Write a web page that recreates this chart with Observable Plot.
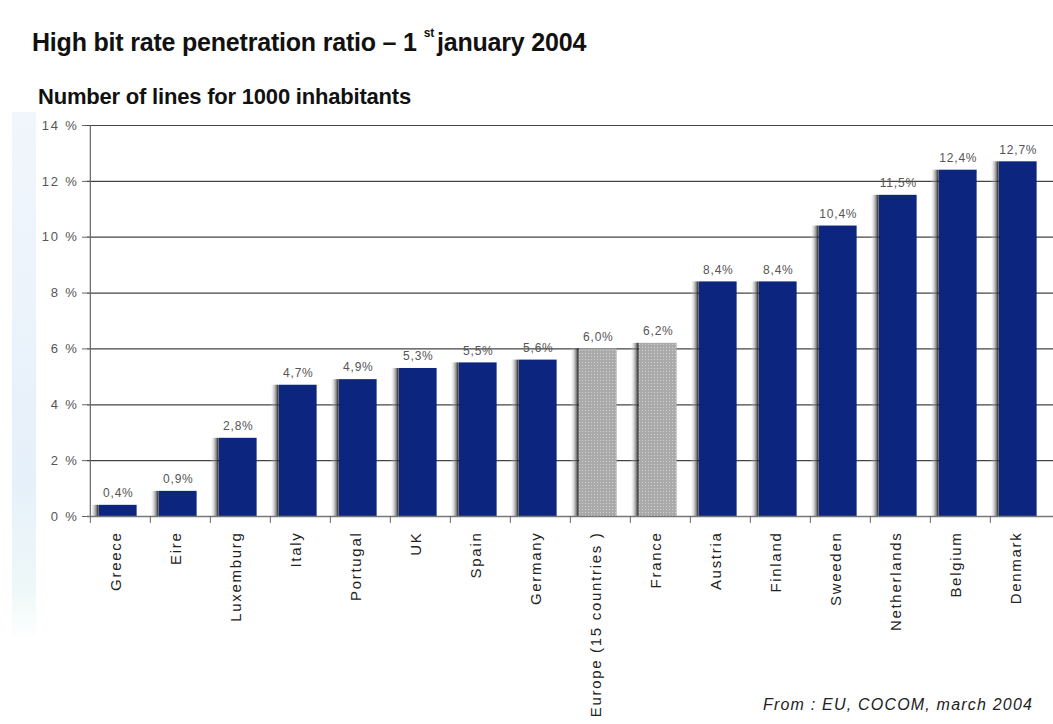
<!DOCTYPE html>
<html>
<head>
<meta charset="utf-8">
<script src="https://cdn.jsdelivr.net/npm/d3@7"></script>
<script src="https://cdn.jsdelivr.net/npm/@observablehq/plot@0.6"></script>
<style>
  html, body { margin: 0; padding: 0; background: #fff; }
  body { width: 1053px; height: 724px; position: relative; overflow: hidden; font-family: "Liberation Sans", Arial, sans-serif; }
  #strip { position: absolute; left: 12px; top: 112px; width: 24px; height: 530px;
           background: linear-gradient(to bottom, #f1f6fc, #e6f0fa 70%, #eef8f8 90%, #ffffff); }
  #title { position: absolute; left: 32px; top: 28px; font-size: 25px; font-weight: bold; color: #111; letter-spacing: -0.2px; white-space: nowrap; }
  #title sup { font-size: 12px; position: relative; top: -5px; margin-left: 7px; margin-right: 3px; }
  #subtitle { position: absolute; left: 38px; top: 84px; font-size: 22px; font-weight: bold; color: #111; letter-spacing: -0.2px; white-space: nowrap; }
  #chart { position: absolute; left: 0; top: 110px; }
  #caption { position: absolute; left: 763px; top: 696px; font-size: 16px; font-style: italic; color: #222; letter-spacing: 1.2px; white-space: nowrap; }
  #chart g[aria-label="x-axis tick label"] text { letter-spacing: 1.7px; }
  #chart g[aria-label="y-axis tick label"] text { letter-spacing: 1.8px; }
  #chart g[aria-label="text"] text { letter-spacing: 0.8px; }
</style>
</head>
<body>
<div id="strip"></div>
<div id="title">High bit rate penetration ratio – 1<sup>st</sup>january 2004</div>
<div id="subtitle">Number of lines for 1000 inhabitants</div>
<div id="chart"></div>
<div id="caption">From : EU, COCOM, march 2004</div>
<script>
// ---- data ----
const countries = ["Greece", "Eire", "Luxemburg", "Italy", "Portugal", "UK", "Spain", "Germany",
  "Europe (15 countries )", "France", "Austria", "Finland", "Sweeden", "Netherlands", "Belgium", "Denmark"];
const ratios = [0.4, 0.9, 2.8, 4.7, 4.9, 5.3, 5.5, 5.6, 6.0, 6.2, 8.4, 8.4, 10.4, 11.5, 12.4, 12.7];
const groups = ["country", "country", "country", "country", "country", "country", "country", "country",
  "reference", "reference", "country", "country", "country", "country", "country", "country"];
const yTicks = [0, 2, 4, 6, 8, 10, 12, 14];

const data = countries.map((c, i) => ({ country: c, value: ratios[i], group: groups[i] }));

const W = 1053, H = 614, mL = 87, mR = 0, mT = 15, mB = 208;
const band = (W - mL - mR) / countries.length;
const barL = 9, barW = 38;

const defs = () => {
  const d = d3.create("svg:defs");
  const g = d.append("linearGradient").attr("id", "shadow").attr("x1", 0).attr("x2", 1).attr("y1", 0).attr("y2", 0);
  g.append("stop").attr("offset", "0%").attr("stop-color", "#ffffff").attr("stop-opacity", 0);
  g.append("stop").attr("offset", "60%").attr("stop-color", "#777").attr("stop-opacity", 0.6);
  g.append("stop").attr("offset", "100%").attr("stop-color", "#111").attr("stop-opacity", 1);
  const p = d.append("pattern").attr("id", "dots").attr("width", 3).attr("height", 3).attr("patternUnits", "userSpaceOnUse");
  p.append("rect").attr("width", 3).attr("height", 3).attr("fill", "#a9aaa9");
  p.append("rect").attr("width", 1).attr("height", 1).attr("fill", "#cfd0cf");
  return d.node();
};

const fmt = v => v.toFixed(1).replace(".", ",") + "%";

const chart = Plot.plot({
  width: W, height: H,
  marginLeft: mL, marginRight: mR, marginTop: mT, marginBottom: mB,
  style: { fontFamily: "'Liberation Sans', Arial, sans-serif", background: "transparent", overflow: "visible" },
  x: { domain: countries, padding: 0, label: null },
  y: { domain: [0, 14], ticks: yTicks, label: null },
  marks: [
    defs,
    Plot.ruleY(yTicks.filter(t => t > 0), { stroke: "#444", strokeWidth: 1.2 }),
    // shading on the left of each bar
    Plot.barY(data, { x: "country", y: "value", fill: "url(#shadow)",
      insetLeft: 0, insetRight: band - barL }),
    Plot.barY(data, { x: "country", y: "value",
      fill: d => d.group === "reference" ? "url(#dots)" : "#0c2680",
      insetLeft: barL, insetRight: band - barL - barW }),
    Plot.text(data, { x: "country", y: "value", text: d => fmt(d.value), dy: -12, dx: barL + barW / 2 - band / 2,
      fill: "#555", fontSize: 12 }),
    Plot.ruleY([0], { stroke: "#777", strokeWidth: 1.5 }),
    Plot.ruleX([countries[0]], { dx: -band / 2, stroke: "#666", strokeWidth: 1.2 }),
    Plot.axisY({ ticks: yTicks, tickSize: 5, tickPadding: 4, tickFormat: d => d + " %",
      fontSize: 13, color: "#555", stroke: "#666" }),
    Plot.axisX({ tickSize: 7, tickFormat: () => "", dx: -band / 2, stroke: "#666" }),
    Plot.axisX({ tickSize: 0, tickPadding: 15, tickRotate: -90, dx: -4,
      fontSize: 15, fill: "#222" })
  ]
});
document.getElementById("chart").appendChild(chart);
</script>
</body>
</html>
